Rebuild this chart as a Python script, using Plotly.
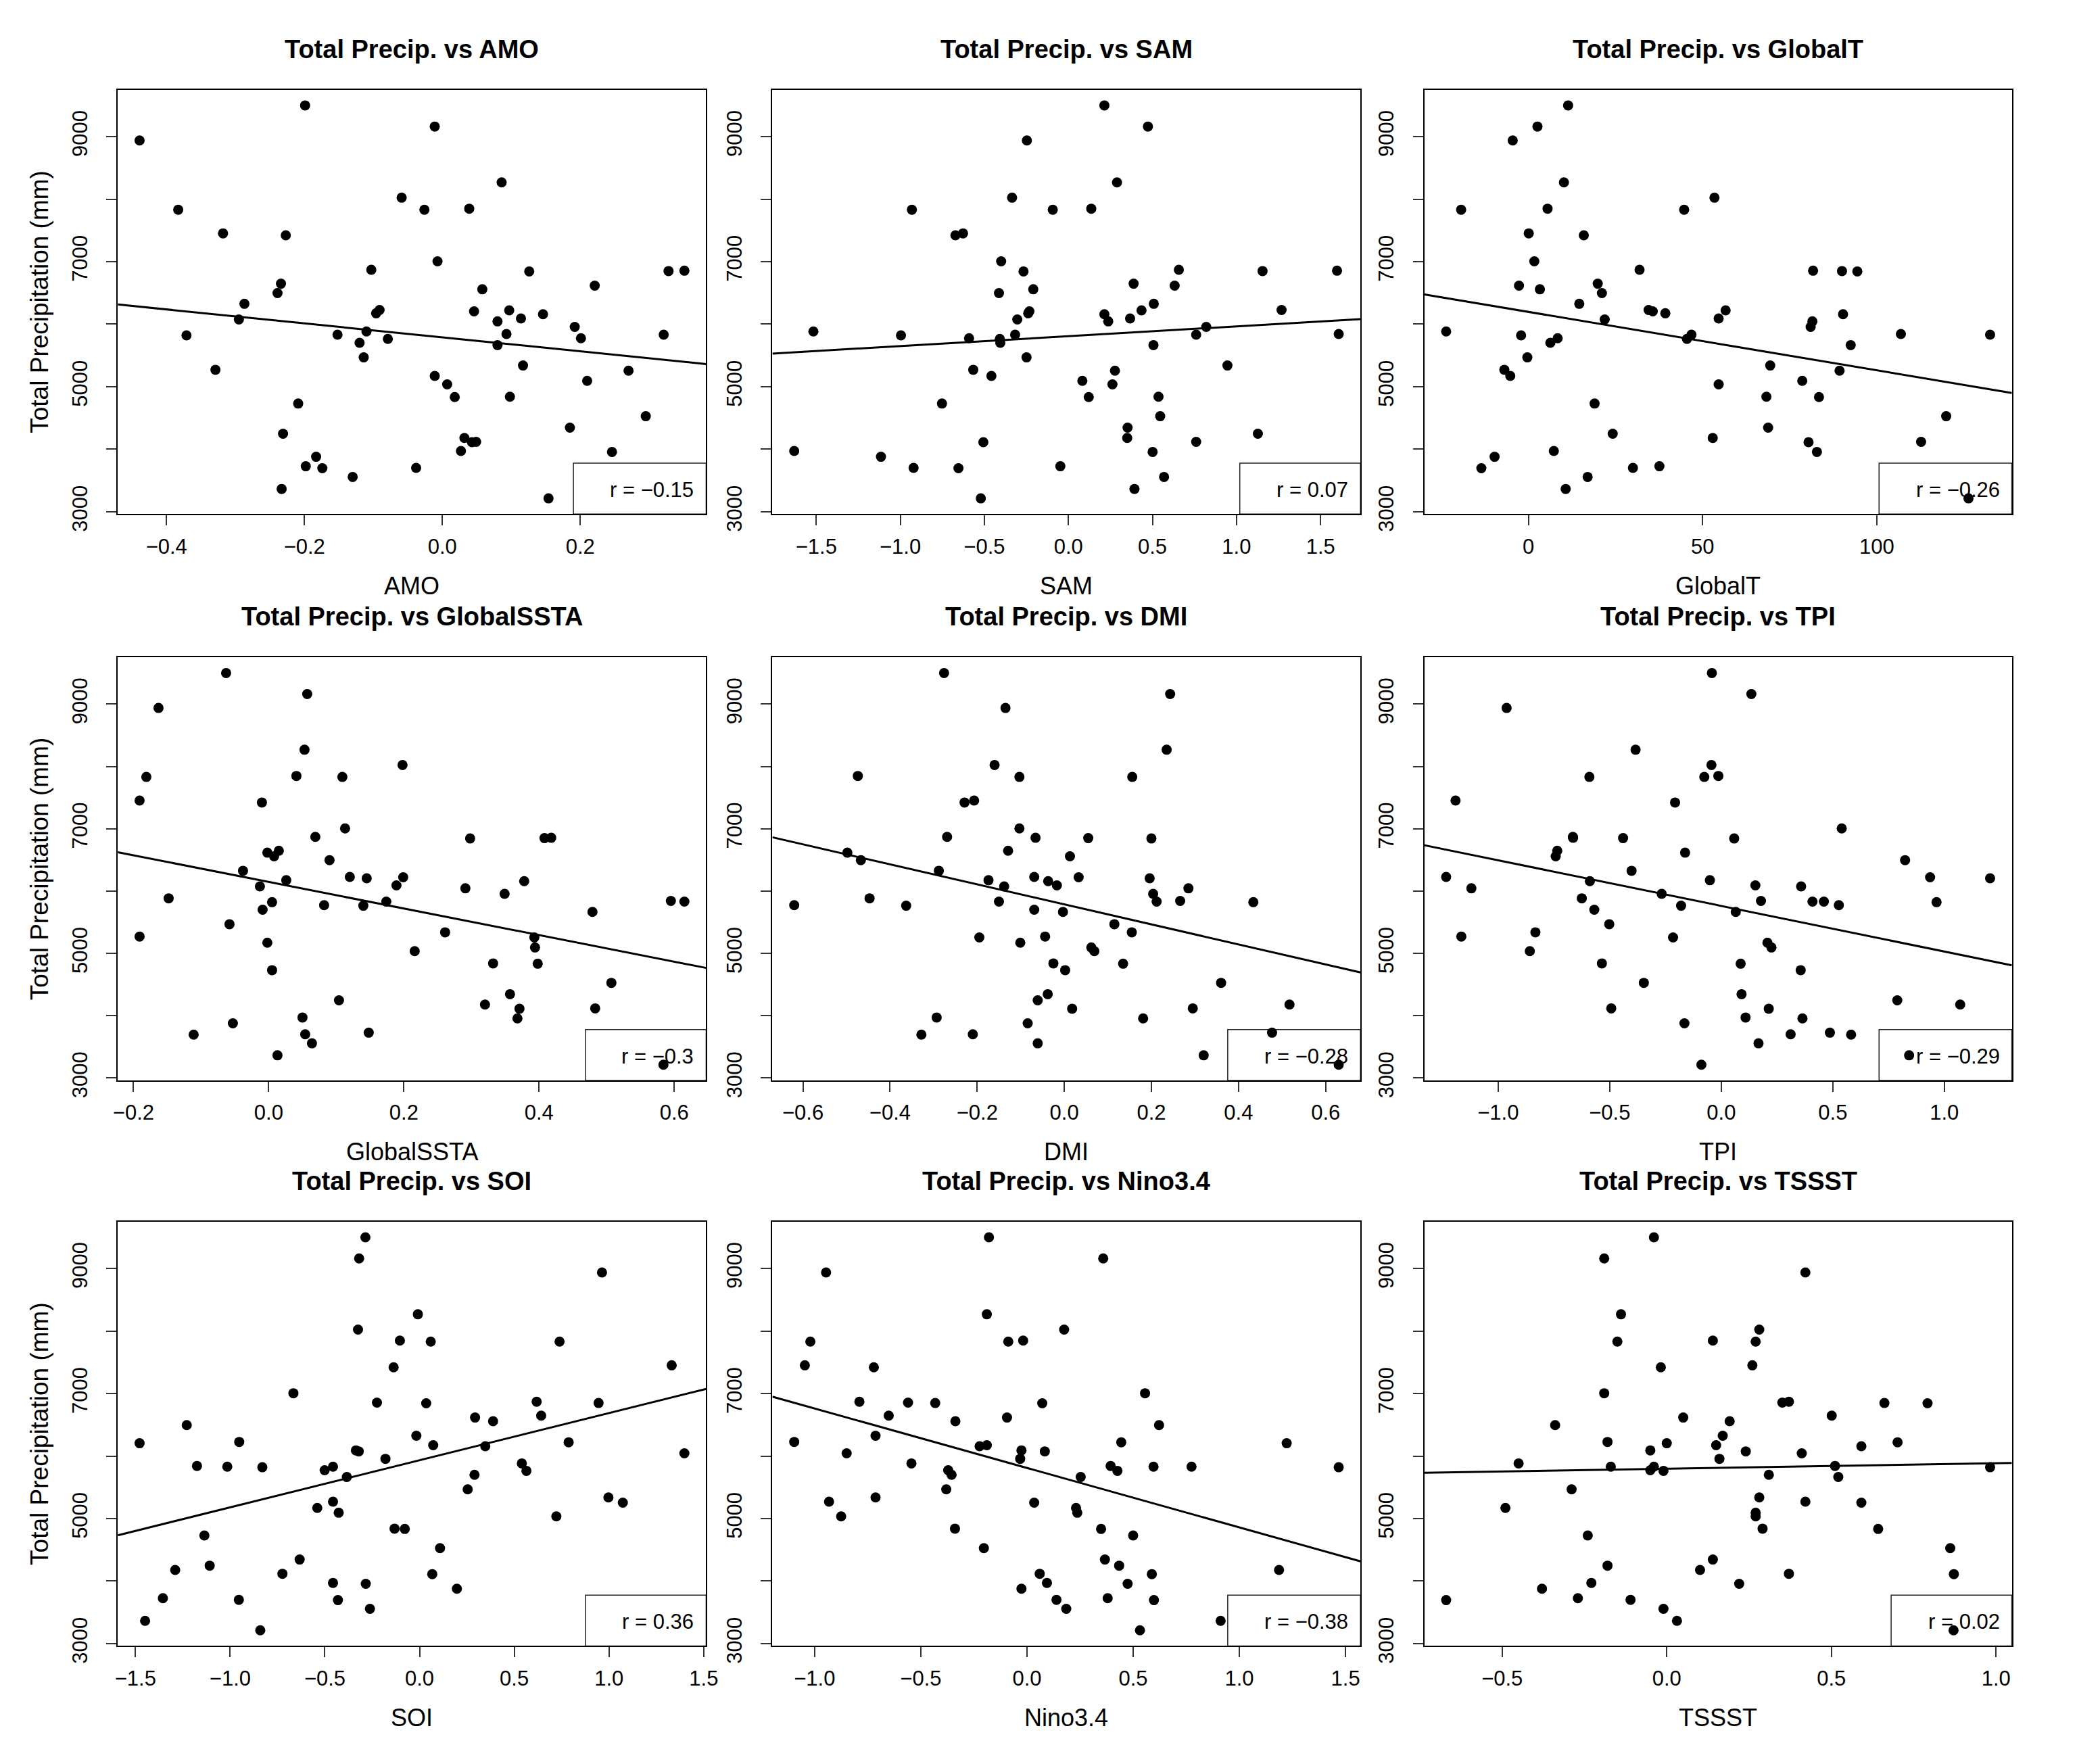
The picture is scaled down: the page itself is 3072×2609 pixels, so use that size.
import numpy as np
import plotly.graph_objects as go

# total precipitation (mm), one value per year, shared by all panels
precip = [9499, 9161, 8938, 8268, 8023, 7847, 7831, 7831, 7452, 7421,
          7005, 6870, 6855, 6849, 6844, 6647, 6616, 6558, 6496, 6325,
          6226, 6221, 6205, 6174, 6158, 6091, 6075, 6044, 5956, 5883,
          5842, 5831, 5831, 5821, 5774, 5764, 5701, 5665, 5468, 5338,
          5270, 5255, 5171, 5094, 5036, 4839, 4834, 4730, 4527, 4345,
          4247, 4179, 4117, 4112, 3971, 3956, 3878, 3727, 3701, 3696,
          3556, 3364, 3213]

amo = [-0.199, -0.011, -0.439, 0.086, -0.059, 0.039, -0.383, -0.026, -0.318, -0.227,
       -0.007, -0.103, 0.351, 0.328, 0.126, -0.234, 0.221, 0.058, -0.239, -0.287,
       -0.091, 0.097, 0.046, -0.096, 0.146, 0.114, -0.295, 0.080, 0.192, -0.110,
       0.093, -0.152, 0.321, -0.371, 0.201, -0.079, -0.120, 0.080, -0.114, 0.117,
       -0.329, 0.270, -0.011, 0.210, 0.007, 0.098, 0.018, -0.209, 0.295, 0.185,
       -0.231, 0.032, 0.049, 0.043, 0.027, 0.246, -0.183, -0.198, -0.038, -0.174,
       -0.130, -0.233, 0.154]

sam = [0.214, 0.473, -0.247, 0.289, -0.335, 0.136, -0.931, -0.093, -0.627, -0.672,
       -0.400, 0.657, 1.598, 1.155, -0.267, 0.388, 0.632, -0.209, -0.413, 0.508,
       1.268, 0.435, -0.232, -0.239, 0.214, 0.367, -0.304, 0.237, 0.820, -1.517,
       1.608, 0.760, -0.317, -0.996, -0.591, -0.408, -0.405, 0.506, -0.249, 0.946,
       -0.566, 0.277, -0.458, 0.083, 0.262, 0.536, 0.121, -0.752, 0.546, 0.352,
       1.127, 0.350, 0.760, -0.506, -1.631, 0.501, -1.115, -0.048, -0.921, -0.654,
       0.569, 0.393, -0.521]

globalt = [11.4, 2.6, -4.5, 10.2, 53.4, 5.5, -19.3, 44.7, 0.1, 15.9,
           1.7, 31.9, 81.7, 90.0, 94.4, 19.9, -2.7, 3.3, 21.1, 14.6,
           34.5, 56.6, 35.7, 39.3, 90.3, 54.6, 21.9, 81.5, 81.0, -23.6,
           106.9, 46.8, 132.5, -2.1, 8.4, 45.5, 6.3, 92.5, -0.3, 69.4,
           -6.9, 89.3, -5.2, 78.6, 54.6, 68.3, 83.4, 19.0, 119.9, 68.8,
           24.2, 52.9, 112.7, 80.4, 7.3, 82.8, -9.7, 37.6, 30.0, -13.5,
           17.0, 10.7, 126.3]

globalssta = [-0.063, 0.057, -0.163, 0.053, 0.198, 0.041, -0.181, 0.109, -0.191, -0.010,
              0.113, 0.069, 0.418, 0.408, 0.298, 0.015, -0.002, 0.008, 0.090, -0.038,
              0.120, 0.199, 0.145, 0.026, 0.378, 0.189, -0.013, 0.291, 0.349, -0.148,
              0.595, 0.174, 0.615, 0.005, 0.082, 0.140, -0.009, 0.479, -0.058, 0.261,
              -0.191, 0.393, -0.002, 0.394, 0.216, 0.332, 0.398, 0.005, 0.507, 0.357,
              0.104, 0.320, 0.483, 0.371, 0.050, 0.368, -0.053, 0.148, 0.054, -0.111,
              0.064, 0.013, 0.584]

dmi = [-0.276, 0.243, -0.135, 0.235, -0.160, -0.474, -0.103, 0.156, -0.207, -0.229,
       -0.103, -0.269, -0.066, 0.055, 0.200, -0.129, -0.498, 0.013, -0.467, -0.288,
       -0.069, 0.033, 0.196, -0.174, -0.037, -0.017, -0.138, 0.285, 0.204, -0.447,
       0.266, -0.150, 0.212, 0.434, -0.620, -0.363, -0.069, -0.003, 0.115, 0.155,
       -0.044, -0.195, -0.101, 0.062, 0.069, -0.025, 0.135, 0.002, 0.360, -0.038,
       -0.061, 0.517, 0.295, 0.018, -0.293, 0.181, -0.084, 0.477, -0.210, -0.328,
       -0.061, 0.320, 0.630]

tpi = [-0.042, 0.135, -0.962, -0.384, -0.044, -0.013, -0.591, -0.076, -1.191, -0.207,
       0.540, -0.665, -0.664, -0.440, 0.058, -0.735, -0.162, -0.742, 0.824, -0.402,
       -1.233, 0.936, 1.205, -0.051, -0.589, 0.153, 0.358, -1.120, -0.267, -0.625,
       0.178, 0.409, 0.460, 0.965, 0.527, -0.180, -0.569, 0.065, -0.502, -0.833,
       -1.165, -0.216, 0.207, 0.225, -0.858, -0.535, 0.087, 0.356, -0.347, 0.091,
       0.789, 1.071, -0.493, 0.213, 0.109, 0.364, -0.165, 0.487, 0.311, 0.582,
       0.167, 0.842, -0.089]

soi = [-0.286, -0.319, 0.963, -0.009, -0.325, -0.104, 0.059, 0.739, 1.331, -0.137,
       -0.666, 0.618, -0.225, 0.945, 0.035, 0.642, 0.293, 0.388, -1.229, -0.017,
       -0.952, 0.787, -1.478, 0.072, 0.347, -0.336, -0.321, 1.398, -0.180, 0.540,
       -1.175, -0.457, -1.015, -0.830, -0.501, 0.564, 0.290, -0.384, 0.254, 0.997,
       -0.457, 1.073, -0.540, -0.427, 0.722, -0.132, -0.078, -1.136, 0.108, -0.633,
       -1.108, -1.290, -0.724, 0.067, -0.457, -0.284, 0.197, -1.355, -0.954, -0.431,
       -0.262, -1.449, -0.841]

nino34 = [-0.179, 0.359, -0.946, -0.189, 0.175, -0.018, -1.020, -0.088, -1.046, -0.721,
          0.556, -0.789, -0.560, -0.432, 0.072, -0.651, -0.094, -0.337, 0.622, -0.713,
          -1.096, 0.444, 1.223, -0.189, -0.223, -0.026, 0.084, -0.849, -0.032, -0.544,
          0.394, 0.596, 0.775, 1.468, -0.371, 0.426, -0.355, 0.253, -0.380, -0.713,
          -0.932, 0.034, 0.231, 0.237, -0.875, -0.339, 0.349, 0.500, -0.203, 0.367,
          0.434, 1.187, 0.060, 0.588, 0.094, 0.474, -0.026, 0.380, 0.139, 0.598,
          0.185, 0.912, 0.532]

tssst = [-0.039, -0.190, 0.421, -0.139, 0.281, 0.140, -0.150, 0.270, 0.260, -0.018,
         -0.190, 0.371, 0.351, 0.661, 0.792, 0.501, 0.050, 0.191, -0.339, 0.170,
         -0.180, 0.701, 0.000, 0.150, 0.591, -0.050, 0.240, 0.410, 0.160, -0.450,
         0.511, -0.039, -0.170, 0.982, -0.050, -0.010, 0.310, 0.521, -0.289, 0.281,
         0.421, 0.591, -0.490, 0.270, 0.270, 0.291, 0.642, -0.240, 0.861, 0.140,
         -0.180, 0.101, 0.371, 0.872, -0.229, 0.220, -0.379, -0.270, -0.110, -0.670,
         -0.010, 0.031, 0.871]

index_names = ["AMO", "SAM", "GlobalT", "GlobalSSTA", "DMI", "TPI", "SOI", "Nino3.4", "TSSST"]
index_values = [amo, sam, globalt, globalssta, dmi, tpi, soi, nino34, tssst]
r_labels = ["r = \u22120.15", "r = 0.07", "r = \u22120.26", "r = \u22120.3", "r = \u22120.28",
            "r = \u22120.29", "r = 0.36", "r = \u22120.38", "r = 0.02"]

x_tickvals = [
    [-0.4, -0.2, 0.0, 0.2],
    [-1.5, -1.0, -0.5, 0.0, 0.5, 1.0, 1.5],
    [0, 50, 100],
    [-0.2, 0.0, 0.2, 0.4, 0.6],
    [-0.6, -0.4, -0.2, 0.0, 0.2, 0.4, 0.6],
    [-1.0, -0.5, 0.0, 0.5, 1.0],
    [-1.5, -1.0, -0.5, 0.0, 0.5, 1.0, 1.5],
    [-1.0, -0.5, 0.0, 0.5, 1.0, 1.5],
    [-0.5, 0.0, 0.5, 1.0],
]
y_tickvals = [3000, 4000, 5000, 6000, 7000, 8000, 9000]
y_ticktext = ["3000", "", "5000", "", "7000", "", "9000"]


def tick_label(v):
    if isinstance(v, int):
        s = "%d" % v
    else:
        s = "%.1f" % v
    return s.replace("-", "\u2212")


W, H = 3072, 2609
col_px = [(168.6, 1046.0), (1144.8, 2021.7), (2117.0, 2993.0)]
row_px = [(134.0, 768.0), (982.0, 1614.0), (1825.0, 2459.0)]
FONT = "Liberation Sans, Arial, Helvetica, sans-serif"

fig = go.Figure()
annotations = []
shapes = []

y = np.array(precip, dtype=float)
ypad = (y.max() - y.min()) * 0.04
yrange = [y.min() - ypad, y.max() + ypad]

for k, (name, xs) in enumerate(zip(index_names, index_values)):
    n = k + 1
    row, col = divmod(k, 3)
    sfx = "" if n == 1 else str(n)
    xa, ya = "x" + sfx, "y" + sfx

    x = np.array(xs, dtype=float)
    xpad = (x.max() - x.min()) * 0.04
    xrange = [x.min() - xpad, x.max() + xpad]
    slope, icpt = np.polyfit(x, y, 1)

    fig.add_trace(go.Scatter(
        x=xs, y=precip, mode="markers",
        marker=dict(color="black", size=15, line=dict(width=0)),
        xaxis=xa, yaxis=ya, showlegend=False, hoverinfo="x+y"
    ))
    fig.add_trace(go.Scatter(
        x=xrange, y=[icpt + slope * v for v in xrange], mode="lines",
        line=dict(color="black", width=3),
        xaxis=xa, yaxis=ya, showlegend=False, hoverinfo="skip"
    ))

    x0, x1 = col_px[col]
    top, bottom = row_px[row]
    common = dict(
        showline=True, mirror=True, linecolor="black", linewidth=2,
        ticks="outside", ticklen=15, tickwidth=2, tickcolor="#333333",
        tickfont=dict(family=FONT, size=31, color="black"),
        showgrid=False, zeroline=False, fixedrange=True,
    )
    fig.layout["xaxis" + sfx] = dict(
        domain=[x0 / W, x1 / W], anchor=ya, range=xrange,
        tickmode="array", tickvals=x_tickvals[k],
        ticktext=[tick_label(v) for v in x_tickvals[k]],
        ticklabelstandoff=4, **common
    )
    fig.layout["yaxis" + sfx] = dict(
        domain=[1 - bottom / H, 1 - top / H], anchor=xa, range=yrange,
        tickmode="array", tickvals=y_tickvals, ticktext=y_ticktext,
        tickangle=-90, ticklabelstandoff=16, **common
    )

    annotations.append(dict(
        text="<b>Total Precip. vs %s</b>" % name,
        xref=xa + " domain", yref=ya + " domain", x=0.5, y=1, yshift=60,
        xanchor="center", yanchor="middle", showarrow=False,
        font=dict(family=FONT, size=38, color="black")
    ))
    annotations.append(dict(
        text=name, xref=xa + " domain", yref=ya + " domain", x=0.5, y=0,
        yshift=-106, xanchor="center", yanchor="middle", showarrow=False,
        font=dict(family=FONT, size=36, color="black")
    ))
    if col == 0:
        annotations.append(dict(
            text="Total Precipitation (mm)", xref=xa + " domain", yref=ya + " domain",
            x=0, y=0.5, xshift=-116, textangle=-90, xanchor="center", yanchor="middle",
            showarrow=False, font=dict(family=FONT, size=37, color="black")
        ))

    # r legend box, bottom right corner
    box_w = (18 * len(r_labels[k]) + 36) / (x1 - x0)
    shapes.append(dict(
        type="rect", xref=xa + " domain", yref=ya + " domain",
        x0=1 - box_w, x1=1, y0=0, y1=0.12,
        line=dict(color="#222222", width=1.5), fillcolor="rgba(0,0,0,0)", layer="below"
    ))
    annotations.append(dict(
        text=r_labels[k], xref=xa + " domain", yref=ya + " domain",
        x=1, y=0.057, xshift=-16, xanchor="right", yanchor="middle", showarrow=False,
        font=dict(family=FONT, size=31, color="black")
    ))

fig.update_layout(
    width=W, height=H, margin=dict(l=0, r=0, t=0, b=0),
    paper_bgcolor="white", plot_bgcolor="white",
    annotations=annotations, shapes=shapes, showlegend=False,
)

fig.write_html("out.html", config={"displayModeBar": False},
               post_script="document.body.style.margin='0';")
